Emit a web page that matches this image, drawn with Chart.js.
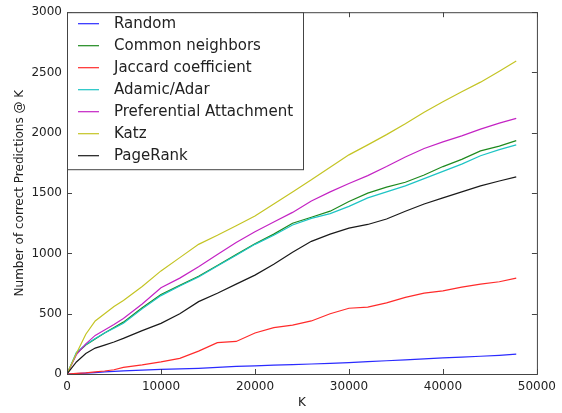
<!DOCTYPE html>
<html>
<head>
<meta charset="utf-8">
<script src="https://cdn.jsdelivr.net/npm/chart.js@4"></script>
<style>
  html, body { margin: 0; padding: 0; background: #fff; }
  #wrap { width: 562px; height: 413px; }
</style>
</head>
<body>
<div id="wrap"><canvas id="grafico" width="562" height="413"></canvas></div>
<script>
// valores
var ks = [0, 1000, 2000, 3000, 4000, 5000, 6000, 8000, 10000, 12000, 14000, 16000, 18000, 20000,
  22000, 24000, 26000, 28000, 30000, 32000, 34000, 36000, 38000, 40000, 42000, 44000, 46000, 47800]

var random_v = [0, 3, 8, 12, 17, 22, 26, 32, 38, 42, 47, 55, 63, 68,
  73, 78, 83, 88, 95, 102, 110, 117, 125, 133, 140, 147, 155, 165]
var common_v = [0, 170, 240, 290, 340, 385, 430, 550, 660, 735, 810, 900, 990, 1080,
  1160, 1250, 1300, 1350, 1430, 1500, 1550, 1590, 1650, 1720, 1780, 1850, 1890, 1935]
var jaccard_v = [0, 5, 10, 18, 25, 35, 55, 75, 100, 130, 190, 260, 270, 340,
  385, 405, 440, 500, 545, 555, 590, 635, 670, 690, 720, 745, 765, 795]
var adamic_v = [0, 180, 245, 295, 340, 380, 420, 540, 650, 730, 805, 895, 985, 1075,
  1150, 1235, 1290, 1330, 1390, 1460, 1510, 1560, 1620, 1680, 1740, 1810, 1860, 1900]
var pref_v = [0, 160, 250, 320, 365, 410, 460, 580, 715, 795, 890, 990, 1090, 1180,
  1260, 1340, 1435, 1510, 1580, 1645, 1720, 1800, 1870, 1925, 1975, 2030, 2080, 2120]
var katz_v = [0, 170, 330, 440, 500, 560, 610, 725, 855, 965, 1075, 1150, 1230, 1310,
  1410, 1510, 1610, 1715, 1817, 1900, 1985, 2075, 2170, 2257, 2340, 2420, 2510, 2595]
var pagerank_v = [0, 100, 170, 215, 240, 265, 295, 360, 420, 500, 600, 670, 745, 820,
  910, 1010, 1100, 1160, 1210, 1240, 1285, 1350, 1410, 1460, 1510, 1560, 1600, 1635]

var nomes = ['Random', 'Common neighbors', 'Jaccard coefficient', 'Adamic/Adar',
  'Preferential Attachment', 'Katz', 'PageRank']
var series = [random_v, common_v, jaccard_v, adamic_v, pref_v, katz_v, pagerank_v]
var cores = ['#2b2bff', '#1f8a1f', '#ff2b2b', '#1ec4c4', '#c424c4', '#c4c424', '#1a1a1a']

var x_ticks = [0, 10000, 20000, 30000, 40000, 50000]
var y_ticks = [0, 500, 1000, 1500, 2000, 2500, 3000]

var fonte = 'DejaVu Sans'
var cor_texto = '#222'
var cor_borda = '#444'

var datasets = []
for (var i = 0; i < series.length; i++) {
  var pontos = []
  for (var j = 0; j < ks.length; j++) {
    pontos.push({ x: ks[j], y: series[i][j] })
  }
  datasets.push({
    label: nomes[i],
    data: pontos,
    borderColor: cores[i],
    backgroundColor: cores[i],
    borderWidth: 1.2,
    pointRadius: 0,
    tension: 0,
    order: series.length - i
  })
}

// moldura, tracinhos para dentro e legenda desenhados por cima
var moldura = {
  id: 'moldura',
  afterDraw: function (chart) {
    var ctx = chart.ctx
    var a = chart.chartArea
    var sx = chart.scales.x
    var sy = chart.scales.y
    ctx.save()
    ctx.strokeStyle = cor_borda
    ctx.lineWidth = 1
    ctx.strokeRect(a.left + 0.5, a.top + 0.5, a.right - a.left, a.bottom - a.top)

    var t = 5
    ctx.beginPath()
    x_ticks.forEach(function (v) {
      var px = Math.round(sx.getPixelForValue(v)) + 0.5
      ctx.moveTo(px, a.bottom); ctx.lineTo(px, a.bottom - t)
      ctx.moveTo(px, a.top); ctx.lineTo(px, a.top + t)
    })
    y_ticks.forEach(function (v) {
      var py = Math.round(sy.getPixelForValue(v)) + 0.5
      ctx.moveTo(a.left, py); ctx.lineTo(a.left + t, py)
      ctx.moveTo(a.right, py); ctx.lineTo(a.right - t, py)
    })
    ctx.stroke()

    // legenda
    var lx = a.left + 0.5, ly = a.top + 0.5
    var lw = 236, lh = 157
    ctx.fillStyle = '#fff'
    ctx.fillRect(lx, ly, lw, lh)
    ctx.strokeStyle = cor_borda
    ctx.strokeRect(lx, ly, lw, lh)
    ctx.font = '15px "' + fonte + '"'
    ctx.textBaseline = 'middle'
    ctx.textAlign = 'left'
    for (var i = 0; i < nomes.length; i++) {
      var ry = a.top + 11 + i * 22
      ctx.strokeStyle = cores[i]
      ctx.lineWidth = 1.2
      ctx.beginPath()
      ctx.moveTo(a.left + 11, ry + 0.5)
      ctx.lineTo(a.left + 32, ry + 0.5)
      ctx.stroke()
      ctx.fillStyle = cor_texto
      ctx.fillText(nomes[i], a.left + 47, ry + 1)
    }
    ctx.restore()
  }
}

var ctxLinha = document.getElementById('grafico').getContext('2d')
var grafico = new Chart(ctxLinha, {
  type: 'line',
  data: { datasets: datasets },
  options: {
    responsive: false,
    animation: false,
    layout: { padding: { top: 12, right: 25, left: 0, bottom: 0 } },
    plugins: {
      legend: { display: false },
      tooltip: { enabled: false }
    },
    scales: {
      x: {
        type: 'linear',
        min: 0,
        max: 50000,
        afterFit: function (s) { s.height = 39 },
        afterBuildTicks: function (s) { s.ticks = x_ticks.map(function (v) { return { value: v } }) },
        grid: { display: false, drawTicks: false },
        border: { display: false },
        ticks: {
          padding: 6,
          maxRotation: 0,
          color: cor_texto,
          font: { family: fonte, size: 12 },
          callback: function (v) { return String(v) }
        },
        title: {
          display: true,
          text: 'K',
          color: cor_texto,
          font: { family: fonte, size: 12 },
          padding: { top: 0, bottom: 3 }
        }
      },
      y: {
        type: 'linear',
        min: 0,
        max: 3000,
        afterFit: function (s) { s.width = 67 },
        afterBuildTicks: function (s) { s.ticks = y_ticks.map(function (v) { return { value: v } }) },
        grid: { display: false, drawTicks: false },
        border: { display: false },
        ticks: {
          padding: 5,
          color: cor_texto,
          font: { family: fonte, size: 12 },
          callback: function (v) { return String(v) }
        },
        title: {
          display: true,
          text: 'Number of correct Predictions @ K',
          color: cor_texto,
          font: { family: fonte, size: 12 },
          padding: { top: 13, bottom: 0 }
        }
      }
    }
  },
  plugins: [moldura]
})
</script>
</body>
</html>
